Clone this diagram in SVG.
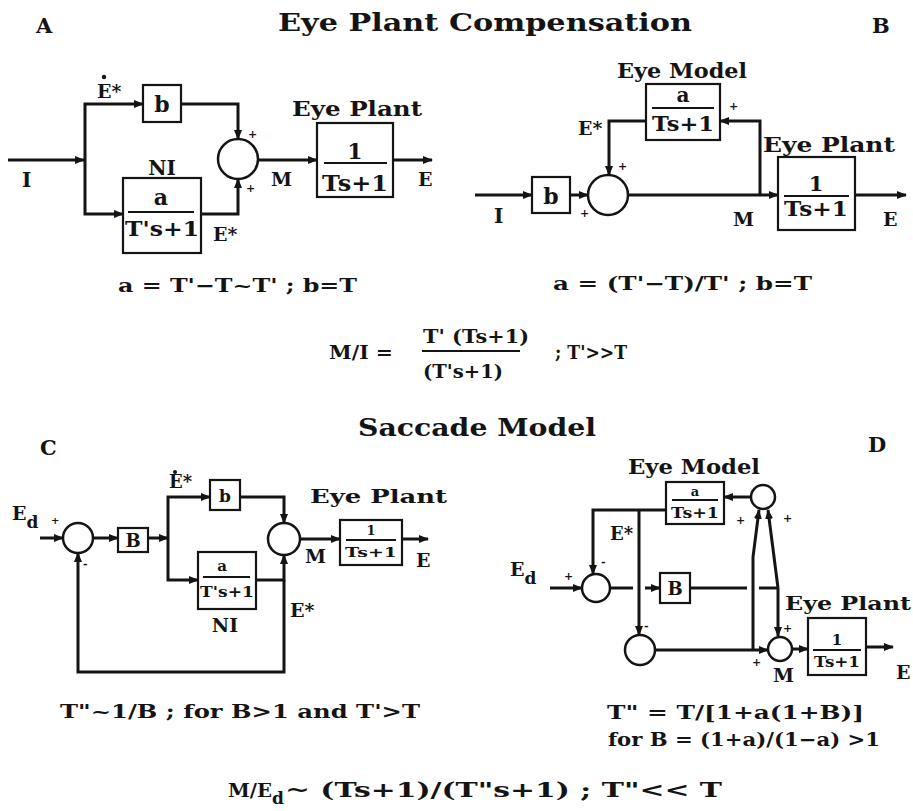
<svg xmlns="http://www.w3.org/2000/svg" width="913" height="811" viewBox="0 0 913 811">
<style>
.t{font-family:"DejaVu Serif","Liberation Serif",serif;font-weight:bold;fill:#141414}
.m{text-anchor:middle}
.ln{stroke:#141414;stroke-width:3;fill:none}
.bx{stroke:#141414;stroke-width:2.2;fill:#fff}
.ci{stroke:#141414;stroke-width:2.5;fill:#fff}
.fr{stroke:#141414;stroke-width:2}
.s{font-size:11px}
</style>
<defs>
<marker id="ah" markerUnits="userSpaceOnUse" markerWidth="10" markerHeight="8" refX="9" refY="4" orient="auto">
<path d="M0,0 L10,4 L0,8 z" fill="#141414"/>
</marker>
</defs>
<rect width="913" height="811" fill="#fff"/>

<g id="titles">
<text class="t" x="278" y="31" font-size="25" textLength="414" lengthAdjust="spacingAndGlyphs">Eye Plant Compensation</text>
<text class="t" x="36" y="33" font-size="21">A</text>
<text class="t" x="872" y="33" font-size="21">B</text>
<text class="t" x="358" y="436" font-size="25" textLength="238" lengthAdjust="spacingAndGlyphs">Saccade Model</text>
<text class="t" x="40" y="455" font-size="21">C</text>
<text class="t" x="868" y="452" font-size="21">D</text>
</g>

<g id="connectors">
<!-- Panel A -->
<path class="ln" d="M8,160 L84,160" marker-end="url(#ah)"/>
<path class="ln" d="M85,160 L85,104 L143,104" marker-end="url(#ah)"/>
<path class="ln" d="M85,160 L85,214 L123,214" marker-end="url(#ah)"/>
<path class="ln" d="M181,104 L238,104 L238,139" marker-end="url(#ah)"/>
<path class="ln" d="M201,214 L238,214 L238,179" marker-end="url(#ah)"/>
<path class="ln" d="M258,160 L317,160" marker-end="url(#ah)"/>
<path class="ln" d="M393,160 L432,160" marker-end="url(#ah)"/>
<!-- Panel B -->
<path class="ln" d="M475,195 L532,195" marker-end="url(#ah)"/>
<path class="ln" d="M570,195 L588,195" marker-end="url(#ah)"/>
<path class="ln" d="M646,121 L609,121 L609,175" marker-end="url(#ah)"/>
<path class="ln" d="M628,195 L778,195" marker-end="url(#ah)"/>
<path class="ln" d="M760,195 L760,121 L720,121" marker-end="url(#ah)"/>
<path class="ln" d="M855,195 L906,195" marker-end="url(#ah)"/>
<!-- Panel C -->
<path class="ln" d="M40,538 L63,538" marker-end="url(#ah)"/>
<path class="ln" d="M93,538 L118,538" marker-end="url(#ah)"/>
<path class="ln" d="M148,538 L168,538" marker-end="url(#ah)"/>
<path class="ln" d="M168,538 L168,497 L210,497" marker-end="url(#ah)"/>
<path class="ln" d="M168,538 L168,580 L198,580" marker-end="url(#ah)"/>
<path class="ln" d="M240,497 L284,497 L284,523" marker-end="url(#ah)"/>
<path class="ln" d="M256,580 L284,580 L284,555" marker-end="url(#ah)"/>
<path class="ln" d="M284,580 L284,672 L78,672 L78,553" marker-end="url(#ah)"/>
<path class="ln" d="M300,539 L340,539" marker-end="url(#ah)"/>
<path class="ln" d="M402,539 L428,539" marker-end="url(#ah)"/>
<!-- Panel D -->
<path class="ln" d="M751,497 L724,497" marker-end="url(#ah)"/>
<path class="ln" d="M666,510 L593,510 L593,574" marker-end="url(#ah)"/>
<path class="ln" d="M639,510 L639,635" marker-end="url(#ah)"/>
<path class="ln" d="M550,588 L582,588" marker-end="url(#ah)"/>
<path class="ln" d="M610,588 L633,588"/>
<path class="ln" d="M645,588 L660,588" marker-end="url(#ah)"/>
<path class="ln" d="M690,588 L747,588"/>
<path class="ln" d="M759,588 L778,588"/>
<path class="ln" d="M753,649 L753,557 L759,510" marker-end="url(#ah)"/>
<path class="ln" d="M778,588 L768,510" marker-end="url(#ah)"/>
<path class="ln" d="M778,588 L778,636" marker-end="url(#ah)"/>
<path class="ln" d="M655,650 L768,650" marker-end="url(#ah)"/>
<path class="ln" d="M792,649 L808,649" marker-end="url(#ah)"/>
<path class="ln" d="M866,647 L893,647" marker-end="url(#ah)"/>
</g>

<!-- Panel A nodes -->
<g id="A-b">
<rect class="bx" x="143" y="85" width="38" height="37"/>
<text class="t m" x="162" y="112" font-size="22">b</text>
</g>
<g id="A-sum">
<circle class="ci" cx="238" cy="159" r="20"/>
<text class="t s" x="248" y="138">+</text>
<text class="t s" x="246" y="192">+</text>
</g>
<g id="A-plant">
<text class="t" x="292" y="116" font-size="20" textLength="130" lengthAdjust="spacingAndGlyphs">Eye Plant</text>
<rect class="bx" x="317" y="123" width="76" height="74"/>
<text class="t m" x="355" y="159" font-size="22">1</text>
<line class="fr" x1="324" y1="163" x2="387" y2="163"/>
<text class="t m" x="355" y="191" font-size="22" textLength="66" lengthAdjust="spacingAndGlyphs">Ts+1</text>
</g>
<g id="A-NI">
<text class="t m" x="162" y="175" font-size="20">NI</text>
<rect class="bx" x="123" y="178" width="78" height="75"/>
<text class="t m" x="161" y="205" font-size="22">a</text>
<line class="fr" x1="128" y1="212" x2="194" y2="212"/>
<text class="t m" x="162" y="236" font-size="21" textLength="74" lengthAdjust="spacingAndGlyphs">T's+1</text>
</g>
<g id="A-labels">
<text class="t" x="22" y="187" font-size="20">I</text>
<text class="t" x="97" y="98" font-size="19">E*</text>
<circle cx="104" cy="77" r="2.2" fill="#141414"/>
<text class="t" x="271" y="186" font-size="19">M</text>
<text class="t" x="418" y="186" font-size="19">E</text>
<text class="t" x="213" y="241" font-size="19">E*</text>
<text class="t" x="118" y="292" font-size="19" textLength="239" lengthAdjust="spacingAndGlyphs">a = T'−T~T' ; b=T</text>
</g>

<!-- Panel B nodes -->
<g id="B-b">
<rect class="bx" x="532" y="177" width="38" height="36"/>
<text class="t m" x="551" y="204" font-size="22">b</text>
</g>
<g id="B-sum">
<circle class="ci" cx="608" cy="195" r="20"/>
<text class="t s" x="618" y="170">+</text>
<text class="t s" x="580" y="217">+</text>
</g>
<g id="B-model">
<text class="t" x="617" y="78" font-size="20" textLength="130" lengthAdjust="spacingAndGlyphs">Eye Model</text>
<rect class="bx" x="646" y="84" width="74" height="56"/>
<text class="t m" x="683" y="102" font-size="20">a</text>
<line class="fr" x1="652" y1="108" x2="714" y2="108"/>
<text class="t m" x="683" y="131" font-size="20" textLength="62" lengthAdjust="spacingAndGlyphs">Ts+1</text>
<text class="t s" x="729" y="110">+</text>
</g>
<g id="B-plant">
<text class="t" x="763" y="152" font-size="20" textLength="132" lengthAdjust="spacingAndGlyphs">Eye Plant</text>
<rect class="bx" x="778" y="157" width="77" height="73"/>
<text class="t m" x="816" y="191" font-size="21">1</text>
<line class="fr" x1="784" y1="196" x2="849" y2="196"/>
<text class="t m" x="816" y="216" font-size="21" textLength="64" lengthAdjust="spacingAndGlyphs">Ts+1</text>
</g>
<g id="B-labels">
<text class="t" x="494" y="223" font-size="20">I</text>
<text class="t" x="578" y="135" font-size="19">E*</text>
<text class="t" x="733" y="226" font-size="19">M</text>
<text class="t" x="883" y="226" font-size="19">E</text>
<text class="t" x="553" y="290" font-size="19" textLength="259" lengthAdjust="spacingAndGlyphs">a = (T'−T)/T' ; b=T</text>
</g>

<g id="formula-AB">
<text class="t" x="329" y="359" font-size="18" textLength="64" lengthAdjust="spacingAndGlyphs">M/I =</text>
<text class="t" x="423" y="343" font-size="18" textLength="106" lengthAdjust="spacingAndGlyphs">T' (Ts+1)</text>
<line class="fr" x1="422" y1="351" x2="520" y2="351"/>
<text class="t" x="423" y="378" font-size="18" textLength="80" lengthAdjust="spacingAndGlyphs">(T's+1)</text>
<text class="t" x="555" y="359" font-size="19" textLength="72" lengthAdjust="spacingAndGlyphs">; T'&gt;&gt;T</text>
</g>

<!-- Panel C nodes -->
<g id="C-sum1">
<circle class="ci" cx="78" cy="538" r="15"/>
<text class="t" x="51" y="524" font-size="10">+</text>
<text class="t s" x="83" y="568">-</text>
</g>
<g id="C-B">
<rect class="bx" x="118" y="528" width="30" height="24"/>
<text class="t m" x="133" y="547" font-size="18">B</text>
</g>
<g id="C-b">
<rect class="bx" x="210" y="480" width="30" height="30"/>
<text class="t m" x="225" y="502" font-size="17">b</text>
</g>
<g id="C-NI">
<rect class="bx" x="198" y="552" width="58" height="57"/>
<text class="t m" x="222" y="571" font-size="15">a</text>
<line class="fr" x1="203" y1="577" x2="250" y2="577"/>
<text class="t m" x="227" y="597" font-size="15" textLength="54" lengthAdjust="spacingAndGlyphs">T's+1</text>
<text class="t m" x="225" y="632" font-size="19">NI</text>
</g>
<g id="C-sum2">
<circle class="ci" cx="284" cy="539" r="16"/>
</g>
<g id="C-plant">
<text class="t" x="310" y="503" font-size="19" textLength="137" lengthAdjust="spacingAndGlyphs">Eye Plant</text>
<rect class="bx" x="340" y="520" width="62" height="45"/>
<text class="t m" x="371" y="535" font-size="13">1</text>
<line class="fr" x1="346" y1="540" x2="396" y2="540"/>
<text class="t m" x="371" y="557" font-size="13" textLength="52" lengthAdjust="spacingAndGlyphs">Ts+1</text>
</g>
<g id="C-labels">
<text class="t" x="12" y="520" font-size="19">E<tspan font-size="17" dy="8">d</tspan></text>
<text class="t" x="169" y="488" font-size="18">E*</text>
<circle cx="175" cy="472" r="2" fill="#141414"/>
<text class="t" x="305" y="563" font-size="19">M</text>
<text class="t" x="416" y="567" font-size="19">E</text>
<text class="t" x="290" y="617" font-size="19">E*</text>
<text class="t" x="60" y="718" font-size="19" textLength="360" lengthAdjust="spacingAndGlyphs">T"~1/B ; for B&gt;1 and T'&gt;T</text>
</g>

<!-- Panel D nodes -->
<g id="D-model">
<text class="t" x="628" y="474" font-size="20" textLength="132" lengthAdjust="spacingAndGlyphs">Eye Model</text>
<rect class="bx" x="666" y="482" width="58" height="42"/>
<text class="t m" x="695" y="496" font-size="13">a</text>
<line class="fr" x1="672" y1="500" x2="718" y2="500"/>
<text class="t m" x="695" y="518" font-size="14" textLength="48" lengthAdjust="spacingAndGlyphs">Ts+1</text>
</g>
<g id="D-sumTop">
<circle class="ci" cx="763" cy="497" r="12"/>
<text class="t s" x="736" y="524">+</text>
<text class="t s" x="783" y="522">+</text>
</g>
<g id="D-sum1">
<circle class="ci" cx="596" cy="588" r="14"/>
<text class="t s" x="564" y="580">+</text>
<text class="t s" x="601" y="566">-</text>
</g>
<g id="D-B">
<rect class="bx" x="660" y="573" width="30" height="30"/>
<text class="t m" x="675" y="595" font-size="18">B</text>
</g>
<g id="D-sum3">
<circle class="ci" cx="640" cy="650" r="15"/>
<text class="t s" x="644" y="630">-</text>
</g>
<g id="D-sum4">
<circle class="ci" cx="780" cy="649" r="12"/>
<text class="t s" x="783" y="632">+</text>
<text class="t s" x="752" y="666">+</text>
</g>
<g id="D-plant">
<text class="t" x="785" y="610" font-size="19" textLength="126" lengthAdjust="spacingAndGlyphs">Eye Plant</text>
<rect class="bx" x="808" y="618" width="58" height="57"/>
<text class="t m" x="837" y="645" font-size="15">1</text>
<line class="fr" x1="813" y1="650" x2="861" y2="650"/>
<text class="t m" x="837" y="667" font-size="14" textLength="46" lengthAdjust="spacingAndGlyphs">Ts+1</text>
</g>
<g id="D-labels">
<text class="t" x="510" y="576" font-size="19">E<tspan font-size="17" dy="8">d</tspan></text>
<text class="t" x="610" y="540" font-size="18">E*</text>
<text class="t" x="773" y="682" font-size="19">M</text>
<text class="t" x="896" y="679" font-size="19">E</text>
<text class="t" x="607" y="719" font-size="19" textLength="257" lengthAdjust="spacingAndGlyphs">T" = T/[1+a(1+B)]</text>
<text class="t" x="608" y="746" font-size="19" textLength="272" lengthAdjust="spacingAndGlyphs">for B = (1+a)/(1−a) &gt;1</text>
</g>

<g id="formula-CD">
<text class="t" x="228" y="797" font-size="19" textLength="44" lengthAdjust="spacingAndGlyphs">M/E</text>
<text class="t" x="272" y="804" font-size="17">d</text>
<text class="t" x="285" y="797" font-size="20" textLength="437" lengthAdjust="spacingAndGlyphs">~ (Ts+1)/(T"s+1) ;  T"&lt;&lt; T</text>
</g>
</svg>
